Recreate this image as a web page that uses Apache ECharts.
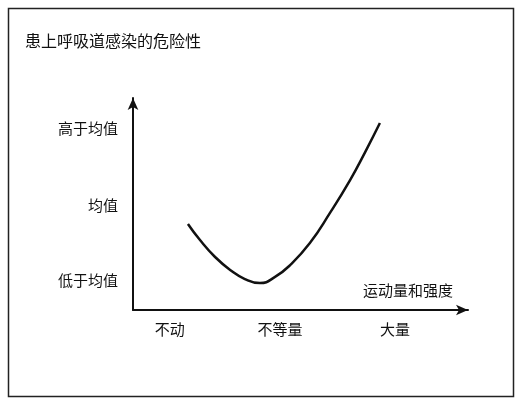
<!DOCTYPE html>
<html><head><meta charset="utf-8">
<script src="https://cdn.jsdelivr.net/npm/echarts@6/dist/echarts.min.js"></script>
<style>html,body{margin:0;background:#fff}#c{width:522px;height:405px}</style>
</head><body><div id="c"></div>
<script>
var xTickValues = [1.1, 4.39, 7.82];
var xTickLabels = ['不动', '不等量', '大量'];
var yTickValues = [1.42, 4.95, 8.58];
var yTickLabels = ['低于均值', '均值', '高于均值'];
var curveX = [1.64, 2.0, 2.45, 2.9, 3.34, 3.79, 4.24, 4.69, 5.28, 5.88, 6.48, 6.93, 7.37];
var curveY = [4.06, 3.30, 2.50, 1.89, 1.46, 1.27, 1.56, 2.12, 3.16, 4.58, 6.13, 7.45, 8.82];

var chart = echarts.init(document.getElementById('c'));
var font = '"Noto Sans CJK SC", sans-serif';
function lookup(vals, labels) {
	return function(v){
		for (var i = 0; i < vals.length; i++) if (Math.abs(vals[i] - v) < 0.01) return labels[i];
		return '';
	};
}
chart.setOption({
	animation: false,
	title: {text: '患上呼吸道感染的危险性', left: 20, top: 28,
		textStyle: {fontFamily: font, fontSize: 16, fontWeight: 'normal', color: '#111'}},
	graphic: [{type: 'rect', shape: {x: 8.5, y: 8.5, width: 505, height: 388},
		style: {fill: 'none', stroke: '#222', lineWidth: 1.5}}],
	grid: {left: 133, right: 54, top: 98, bottom: 95},
	xAxis: {
		type: 'value', min: 0, max: 10, splitLine: {show: false},
		axisLine: {lineStyle: {color: '#111', width: 2}, symbol: ['none', 'arrow'], symbolSize: [8, 12]},
		axisTick: {show: false},
		name: '运动量和强度', nameLocation: 'end', nameGap: -15,
		nameTextStyle: {fontFamily: font, fontSize: 15, color: '#111', align: 'right',
			verticalAlign: 'bottom', padding: [0, 0, 12, 0]},
		axisLabel: {customValues: xTickValues, formatter: lookup(xTickValues, xTickLabels),
			fontFamily: font, fontSize: 15, color: '#111', margin: 12}
	},
	yAxis: {
		type: 'value', min: 0, max: 10, splitLine: {show: false},
		axisLine: {lineStyle: {color: '#111', width: 2}, symbol: ['none', 'arrow'], symbolSize: [8, 12]},
		axisTick: {show: false},
		axisLabel: {customValues: yTickValues, formatter: lookup(yTickValues, yTickLabels),
			fontFamily: font, fontSize: 15, color: '#111', margin: 15}
	},
	series: [{
		type: 'line', smooth: true, showSymbol: false,
		lineStyle: {color: '#111', width: 2.5},
		data: curveX.map(function(x, i){ return [x, curveY[i]]; })
	}]
});
</script></body></html>
